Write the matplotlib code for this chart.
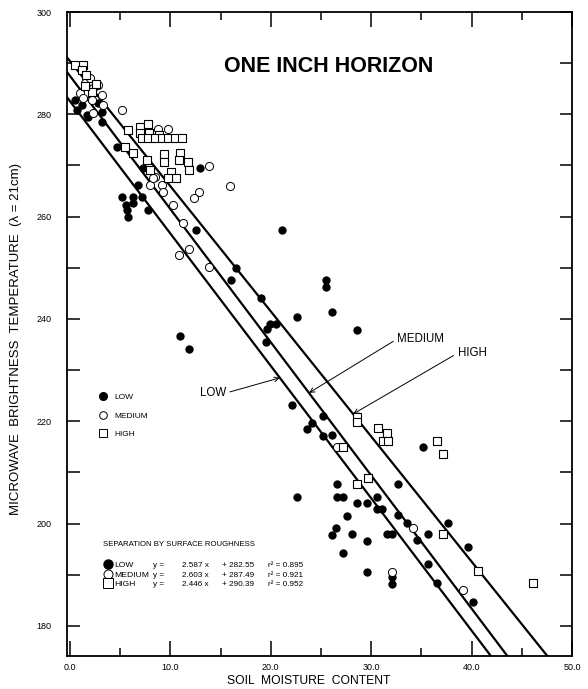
import numpy as np
import matplotlib
matplotlib.use("Agg")
import matplotlib.pyplot as plt
from matplotlib.lines import Line2D

plt.rcParams["font.family"] = ["Liberation Sans", "DejaVu Sans"]

# ---- data --------------------------------------------------------------
low_x = [0.5, 0.7, 1.2, 1.7, 1.8, 2.8, 3.2, 3.2, 4.7,
         7.3, 6.8, 5.2, 6.3, 7.2, 6.3, 5.6, 5.7, 5.8, 7.8, 12.9, 12.5,
         21.1, 16.5, 16.0, 19.0, 22.6, 25.5, 25.5, 26.1, 28.6, 19.9, 20.5,
         19.6, 19.5, 11.0, 11.9,
         22.1, 25.2, 24.1, 23.6, 25.2, 26.1, 35.2, 26.6, 32.7, 22.6, 26.6,
         27.2, 28.6, 29.6, 30.6, 30.6, 31.1, 27.6, 32.7, 33.6, 26.5, 26.1,
         28.1, 31.6, 32.1, 34.6, 35.7, 29.6, 37.6, 39.6, 27.2, 35.7, 29.6,
         32.1, 32.1, 36.6, 40.1]
low_y = [282.7, 280.8, 281.8, 279.8, 279.4, 282.3, 280.4, 278.4, 273.6,
         269.6, 266.1, 263.8, 263.8, 263.8, 262.6, 262.2, 261.3, 259.9, 261.3, 269.6, 257.3,
         257.3, 249.9, 247.6, 244.1, 240.4, 247.6, 246.2, 241.3, 237.8, 239.0, 239.0,
         238.0, 235.5, 236.6, 234.1,
         223.2, 221.0, 219.6, 218.5, 217.1, 217.3, 215.0, 207.7, 207.7, 205.2, 205.2,
         205.2, 204.0, 204.0, 205.2, 202.9, 202.9, 201.5, 201.7, 200.1, 199.1, 197.8,
         198.0, 198.0, 198.0, 196.8, 198.0, 196.6, 200.1, 195.4, 194.3, 192.1, 190.5,
         189.6, 188.2, 188.4, 184.7]

med_x = [1.5, 2.0, 2.3, 2.8, 3.2, 1.7, 2.2, 1.0, 1.3, 2.3, 3.3, 5.2,
         8.8, 9.8, 13.8, 8.5, 9.2, 8.0, 15.9, 9.3, 12.8, 12.3, 10.3, 11.3,
         11.9, 10.9, 13.8, 8.3,
         26.6, 34.2, 32.1, 39.1]
med_y = [286.2, 287.0, 285.1, 285.7, 283.7, 284.1, 282.7, 284.1, 283.1, 280.2, 281.8, 280.8,
         277.1, 277.1, 269.8, 267.7, 266.1, 266.1, 265.9, 264.8, 264.8, 263.6, 262.2, 258.7,
         253.6, 252.5, 250.1, 267.5,
         215.0, 199.1, 190.5, 187.0]

high_x = [0.5, 1.3, 1.2, 1.6, 2.6, 2.2, 1.5,
          5.5, 5.8, 7.0, 7.0, 7.8, 7.9, 8.9, 7.2, 7.8, 8.5, 9.2, 9.8, 10.5, 11.2,
          6.3, 7.7, 9.4, 9.4, 11.0, 10.9, 11.8, 11.9, 10.1, 10.6, 9.8, 8.0,
          28.6, 28.6, 30.7, 31.6, 31.2, 31.7, 27.2, 36.6, 37.2, 29.7, 28.6,
          37.2, 40.6, 46.1]
high_y = [289.6, 289.6, 288.6, 287.6, 285.9, 284.3, 285.5,
          273.6, 276.9, 277.5, 276.3, 278.2, 276.3, 275.9, 275.3, 275.3, 275.3, 275.3, 275.3, 275.3, 275.3,
          272.4, 271.0, 272.2, 270.6, 272.4, 271.0, 270.6, 269.1, 268.7, 267.5, 267.5, 269.1,
          220.8, 219.8, 218.7, 217.7, 216.1, 216.1, 215.0, 216.1, 213.6, 208.9, 207.7,
          198.0, 190.7, 188.4]

groups = ["LOW", "MEDIUM", "HIGH"]
fit_slope = [2.587, 2.603, 2.446]
fit_icept = [282.55, 287.49, 290.39]
fit_r2 = [0.895, 0.921, 0.952]

x_ticks = [0, 10, 20, 30, 40, 50]
y_ticks = [180, 200, 220, 240, 260, 280, 300]

# ---- figure -------------------------------------------------------------
fig = plt.figure(figsize=(5.88, 6.89), dpi=100, facecolor="white")
ax = fig.add_axes([67 / 588, 1 - 656 / 689, 505 / 588, 644 / 689])
ax.set_xlim(-0.3, 50)
ax.set_ylim(174.1, 300)

xs = np.array(ax.get_xlim())
for m, b in zip(fit_slope, fit_icept):
    ax.plot(xs, b - m * xs, color="black", lw=1.6, zorder=2)

ax.scatter(low_x, low_y, c="black", marker="o", linewidths=0, s=36, zorder=3)
ax.scatter(med_x, med_y, facecolors="white", edgecolors="black", marker="o",
           linewidths=0.7, s=34, zorder=3)
ax.scatter(high_x, high_y, facecolors="white", edgecolors="black", marker="s",
           linewidths=0.8, s=36, zorder=3)

# axes styling
for sp in ax.spines.values():
    sp.set_linewidth(1.3)
ax.set_xticks(x_ticks)
ax.set_xticklabels([f"{v:.1f}" for v in x_ticks])
ax.set_xticks([5, 15, 25, 35, 45], minor=True)
ax.set_yticks(y_ticks)
ax.set_yticks([190, 210, 230, 250, 270, 290], minor=True)
ax.tick_params(which="both", direction="in", top=True, right=True, width=1.1,
               labelsize=6.5, colors="black")
ax.tick_params(axis="x", which="major", length=11, pad=5)
ax.tick_params(axis="x", which="minor", length=6)
ax.tick_params(axis="y", which="both", length=9, pad=11)

ax.set_xlabel("SOIL  MOISTURE  CONTENT", fontsize=8.7)
ax.xaxis.set_label_coords(0.479, -0.030)
ax.set_ylabel("MICROWAVE  BRIGHTNESS  TEMPERATURE  (\u03bb = 21cm)", fontsize=9.5)
ax.yaxis.set_label_coords(-0.089, 0.492)

ax.text(0.519, 0.915, "ONE INCH HORIZON", transform=ax.transAxes,
        ha="center", va="center", fontsize=15.5, fontweight="bold")

# line annotations
arrow = dict(arrowstyle="->", lw=0.7, color="black", shrinkA=1, shrinkB=0)
tip_x = [20.9, 23.8, 28.2]
text_xy = [(12.9, 225.5), (32.6, 236.1), (38.6, 233.3)]
for i, name in enumerate(groups):
    tip = (tip_x[i], fit_icept[i] - fit_slope[i] * tip_x[i])
    rel = (1, 0.5) if i == 0 else (0, 0.5)
    ax.annotate(name, xy=tip, xytext=text_xy[i], fontsize=8.3, ha="left", va="center",
                arrowprops=dict(relpos=rel, **arrow))

# small key
def handles(ms):
    return [
        Line2D([], [], ls="none", marker="o", ms=ms, mfc="black", mec="black"),
        Line2D([], [], ls="none", marker="o", ms=ms, mfc="white", mec="black", mew=0.7),
        Line2D([], [], ls="none", marker="s", ms=ms, mfc="white", mec="black", mew=0.7),
    ]

key = ax.legend(handles(5.5), groups, loc="center left", bbox_to_anchor=(0.055, 0.373),
                frameon=False, fontsize=6, handlelength=1.0, handletextpad=0.9,
                labelspacing=1.3, borderpad=0)
ax.add_artist(key)

ax.text(0.071, (656 - 545) / 644, "SEPARATION BY SURFACE ROUGHNESS", transform=ax.transAxes,
        fontsize=5.6, ha="left", va="center")
sep = ax.legend(handles(6.5), groups, loc="upper left", bbox_to_anchor=(0.066, (656 - 557) / 644),
                frameon=False, fontsize=6.1, handlelength=0.8, handletextpad=0.4,
                labelspacing=0.2, borderpad=0)

fig.canvas.draw()
inv = ax.transAxes.inverted()
for txt, m, b, r2 in zip(sep.get_texts(), fit_slope, fit_icept, fit_r2):
    bb = txt.get_window_extent()
    yc = inv.transform((0, (bb.y0 + bb.y1) / 2))[1]
    for xa, s in [(0.170, "y ="), (0.228, f"{m:.3f} x"), (0.306, f"+ {b:.2f}"),
                  (0.398, f"r\u00b2 = {r2:.3f}")]:
        ax.text(xa, yc, s, transform=ax.transAxes, fontsize=5.9, va="center", ha="left")

fig.savefig("out.png", dpi=100, facecolor="white")
